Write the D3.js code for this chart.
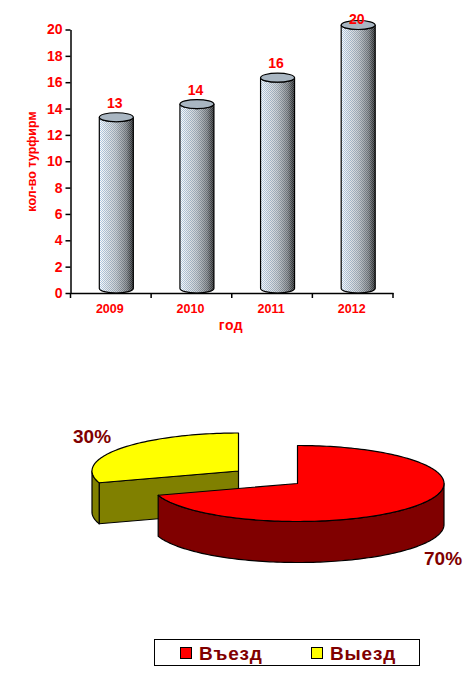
<html>
<head>
<meta charset="utf-8">
<style>
  body { margin: 0; background: white; }
  svg { display: block; font-family: "Liberation Sans", Arial, sans-serif; font-weight: bold; }
  .axis .domain, .axis .tick line { stroke: black; stroke-width: 1.5; }
  .axis text { fill: #ff0000; font-weight: bold; font-family: "Liberation Sans", Arial, sans-serif; }
</style>
</head>
<body>
<svg class="chart" width="464" height="674"></svg>
<script src="https://d3js.org/d3.v7.min.js"></script>
<script>
  var years = ["2009", "2010", "2011", "2012"];
  var firms = [13, 14, 16, 20];
  var yTicks = [0, 2, 4, 6, 8, 10, 12, 14, 16, 18, 20];

  var shareNames = ["Въезд", "Выезд"];
  var shares = [70, 30];
  var shareColors = ["#ff0000", "#ffff00"];
  var shareDark = ["#800000", "#808000"];

  var chart = d3.select(".chart");
  var defs = chart.append("defs");

  // bars
  var xScale = d3.scaleBand().domain(years).range([70.5, 393]);
  var yScale = d3.scaleLinear().domain([0, 20]).range([293, 29.5]);

  var barWidth = 34;
  var depthX = 5.5;
  var depthY = 4.5;
  var capRy = 4.5;

  // the bars are dithered: two gradients mixed through a 1px checker
  function gradient(id, stops) {
    var g = defs.append("linearGradient").attr("id", id);
    stops.forEach(function(s) {
      g.append("stop").attr("offset", s[0]).attr("stop-color", s[1]);
    });
  }
  gradient("barA", [[0, "#ffffff"], [0.5, "#c8ccd0"], [0.8, "#94989c"], [1, "#505254"]]);
  gradient("barB", [[0, "#b4cce6"], [0.5, "#98a4b0"], [0.8, "#686e74"], [1, "#202224"]]);

  var checker = defs.append("pattern")
    .attr("id", "checker")
    .attr("patternUnits", "userSpaceOnUse")
    .attr("width", 2).attr("height", 2);
  checker.append("rect").attr("width", 1).attr("height", 1).attr("fill", "white");
  checker.append("rect").attr("x", 1).attr("y", 1).attr("width", 1).attr("height", 1).attr("fill", "white");
  defs.append("mask").attr("id", "checkerMask")
    .attr("maskUnits", "userSpaceOnUse")
    .attr("x", 0).attr("y", 0).attr("width", 464).attr("height", 674)
    .append("rect").attr("width", 464).attr("height", 674).attr("fill", "url(#checker)");

  function barPath(d, i) {
    var cx = xScale(years[i]) + xScale.bandwidth() / 2 + depthX;
    var rx = barWidth / 2;
    var top = yScale(d) - depthY;
    var bottom = yScale(0) - depthY;
    return "M" + (cx - rx) + "," + top +
      "L" + (cx - rx) + "," + bottom +
      "A" + rx + "," + capRy + " 0 0 0 " + (cx + rx) + "," + bottom +
      "L" + (cx + rx) + "," + top +
      "A" + rx + "," + capRy + " 0 0 1 " + (cx - rx) + "," + top + "Z";
  }

  chart.selectAll(".bar-a").data(firms).enter().append("path")
    .attr("class", "bar-a")
    .attr("d", barPath)
    .attr("fill", "url(#barA)");
  chart.selectAll(".bar-b").data(firms).enter().append("path")
    .attr("class", "bar-b")
    .attr("d", barPath)
    .attr("fill", "url(#barB)")
    .attr("mask", "url(#checkerMask)");
  chart.selectAll(".bar-line").data(firms).enter().append("path")
    .attr("class", "bar-line")
    .attr("d", barPath)
    .attr("fill", "none")
    .attr("stroke", "black")
    .attr("stroke-width", 1.2);

  chart.selectAll(".cap").data(firms).enter().append("ellipse")
    .attr("class", "cap")
    .attr("cx", function(d, i) { return xScale(years[i]) + xScale.bandwidth() / 2 + depthX; })
    .attr("cy", function(d) { return yScale(d) - depthY; })
    .attr("rx", barWidth / 2)
    .attr("ry", capRy)
    .attr("fill", "#a9b6c2")
    .attr("stroke", "black")
    .attr("stroke-width", 1.2);

  // labels stop at the top of the plot, so the 20 sits on its cap
  chart.selectAll(".value").data(firms).enter().append("text")
    .attr("class", "value")
    .attr("x", function(d, i) { return xScale(years[i]) + xScale.bandwidth() / 2 + 4; })
    .attr("y", function(d) { return Math.max(23.5, yScale(d) - 14); })
    .attr("text-anchor", "middle")
    .attr("fill", "#ff0000")
    .attr("font-size", 14)
    .text(function(d) { return d; });

  // axes
  var yAxis = d3.axisLeft(yScale).tickValues(yTicks).tickSize(5).tickSizeOuter(0).tickPadding(3);
  chart.append("g")
    .attr("class", "axis")
    .attr("transform", "translate(70.5,0)")
    .call(yAxis)
    .selectAll("text").attr("font-size", 14);

  var xAxis = d3.axisBottom(xScale).tickSize(0).tickPadding(11);
  var xG = chart.append("g")
    .attr("class", "axis")
    .attr("transform", "translate(0,293)")
    .call(xAxis);
  xG.selectAll("text").attr("font-size", 12.5).attr("dx", -1);
  xG.selectAll(".sep").data(d3.range(years.length + 1)).enter().append("line")
    .attr("class", "sep")
    .attr("x1", function(d) { return 70.5 + d * xScale.bandwidth(); })
    .attr("x2", function(d) { return 70.5 + d * xScale.bandwidth(); })
    .attr("y1", 0).attr("y2", 5)
    .attr("stroke", "black").attr("stroke-width", 1.5);

  chart.append("text")
    .attr("x", 231).attr("y", 330)
    .attr("text-anchor", "middle")
    .attr("fill", "#ff0000")
    .attr("font-size", 14)
    .attr("letter-spacing", 0.6)
    .text("год");

  chart.append("text")
    .attr("transform", "translate(36,161.5) rotate(-90)")
    .attr("text-anchor", "middle")
    .attr("fill", "#ff0000")
    .attr("font-size", 12.5)
    .text("кол-во турфирм");

  // pie
  var rx = 146.5;
  var ry = 38;
  var pieDepth = 41;
  var centers = [[297.5, 483.5], [238.5, 471]];

  var arcs = d3.pie().sort(null)(shares);

  function ellipsePoints(c, a0, a1, dy) {
    var n = Math.max(2, Math.ceil((a1 - a0) * 40));
    return d3.range(n + 1).map(function(k) {
      var a = a0 + (a1 - a0) * k / n;
      return [c[0] + rx * Math.sin(a), c[1] - ry * Math.cos(a) + dy];
    });
  }
  var line = d3.line();

  function drawSlice(i) {
    var arc = arcs[i], c = centers[i];
    var g = chart.append("g")
      .attr("stroke", "black")
      .attr("stroke-width", 1.2)
      .attr("stroke-linejoin", "round");

    // cut face that looks towards the viewer
    if (arc.startAngle > Math.PI) {
      var p = ellipsePoints(c, arc.startAngle, arc.startAngle, 0)[0];
      g.append("path")
        .attr("d", line([c, p, [p[0], p[1] + pieDepth], [c[0], c[1] + pieDepth]]) + "Z")
        .attr("fill", shareDark[i]);
    }

    // rim, only the front half of the ellipse shows
    var a0 = Math.max(arc.startAngle, Math.PI / 2);
    var a1 = Math.min(arc.endAngle, Math.PI * 3 / 2);
    var rim = ellipsePoints(c, a0, a1, 0)
      .concat(ellipsePoints(c, a0, a1, pieDepth).reverse());
    g.append("path").attr("d", line(rim) + "Z").attr("fill", shareDark[i]);

    var top = [c].concat(ellipsePoints(c, arc.startAngle, arc.endAngle, 0));
    g.append("path").attr("d", line(top) + "Z").attr("fill", shareColors[i]);
  }
  drawSlice(1);
  drawSlice(0);

  chart.append("text")
    .attr("x", 73).attr("y", 443)
    .attr("fill", "#800000").attr("font-size", 19)
    .text(shares[1] + "%");
  chart.append("text")
    .attr("x", 424).attr("y", 565)
    .attr("fill", "#800000").attr("font-size", 19)
    .text(shares[0] + "%");

  // legend
  chart.append("rect")
    .attr("x", 154.5).attr("y", 639.5)
    .attr("width", 265).attr("height", 26)
    .attr("fill", "white").attr("stroke", "black");

  var legendX = d3.scalePoint().domain(shareNames).range([180.5, 311.5]);
  var legend = chart.selectAll(".legend").data(shareNames).enter().append("g")
    .attr("class", "legend")
    .attr("transform", function(d) { return "translate(" + legendX(d) + ",647.5)"; });
  legend.append("rect")
    .attr("width", 11).attr("height", 11)
    .attr("fill", function(d, i) { return shareColors[i]; })
    .attr("stroke", "black");
  legend.append("text")
    .attr("x", 18.5).attr("y", 12)
    .attr("fill", "#800000")
    .attr("font-size", 19)
    .attr("letter-spacing", 0.8)
    .text(function(d) { return d; });
</script>
</body>
</html>
